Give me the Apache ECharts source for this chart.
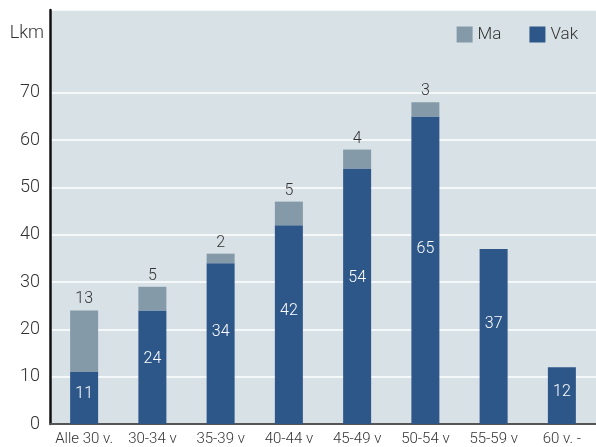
<!DOCTYPE html>
<html>
<head>
<meta charset="utf-8">
<script src="https://cdn.jsdelivr.net/npm/echarts@6/dist/echarts.min.js"></script>
<style>
  html, body { margin: 0; padding: 0; background: #fff; }
  #chart { width: 596px; height: 447px; }
</style>
</head>
<body>
<div id="chart"></div>
<script>
var categories = ['Alle 30 v.', '30-34 v', '35-39 v', '40-44 v', '45-49 v', '50-54 v', '55-59 v', '60 v. -'];
var vakValues = [11, 24, 34, 42, 54, 65, 37, 12];
var maValues = [13, 5, 2, 5, 4, 3, null, null];
var seriesNames = ['Ma', 'Vak'];

var font = 'Roboto, "Liberation Sans", sans-serif';

var option = {
    animation: false,
    color: ['#2e5789', '#849aa8'],
    textStyle: { fontFamily: font },
    legend: {
        right: 13,
        top: 21,
        itemWidth: 16,
        itemHeight: 16,
        itemGap: 28,
        icon: 'rect',
        textStyle: { fontSize: 17, color: '#333', fontWeight: 300, fontFamily: font },
        data: seriesNames
    },
    grid: {
        left: 50,
        right: 0,
        top: 10,
        bottom: 23,
        show: true,
        backgroundColor: '#d7e1e6',
        borderWidth: 0
    },
    xAxis: {
        type: 'category',
        data: categories,
        axisLine: { lineStyle: { color: '#555', width: 2 } },
        axisTick: { show: false },
        axisLabel: { interval: 0, hideOverlap: false, fontSize: 15, color: '#333', fontWeight: 300, margin: 8, fontFamily: font }
    },
    yAxis: {
        type: 'value',
        min: 0,
        max: 87.5,
        interval: 10,
        name: 'Lkm',
        nameLocation: 'end',
        nameGap: -23,
        nameTextStyle: { fontSize: 18, color: '#333', fontWeight: 300, align: 'right', verticalAlign: 'middle', padding: [0, 6, 0, 0] },
        axisLine: { show: true, lineStyle: { color: '#111', width: 2.5 } },
        axisTick: { show: false },
        axisLabel: {
            fontSize: 18, color: '#333', fontWeight: 300, margin: 10,
            formatter: function (v) { return v > 70 ? '' : v; }
        },
        splitLine: {
            lineStyle: {
                color: ['#fff', '#fff', '#fff', '#fff', '#fff', '#fff', '#fff', '#fff', 'rgba(0,0,0,0)'],
                width: 1.5
            }
        }
    },
    series: [
        {
            name: 'Vak',
            type: 'bar',
            stack: 'total',
            barWidth: 28,
            data: vakValues,
            label: {
                show: true,
                position: ['50%', '43%'],
                align: 'center',
                verticalAlign: 'middle',
                color: '#fff',
                fontSize: 16,
                fontWeight: 300
            }
        },
        {
            name: 'Ma',
            type: 'bar',
            stack: 'total',
            barWidth: 28,
            data: maValues,
            label: {
                show: true,
                position: 'top',
                distance: 3,
                color: '#333',
                fontSize: 16,
                fontWeight: 300
            }
        }
    ]
};
echarts.init(document.getElementById('chart')).setOption(option);
</script>
</body>
</html>
